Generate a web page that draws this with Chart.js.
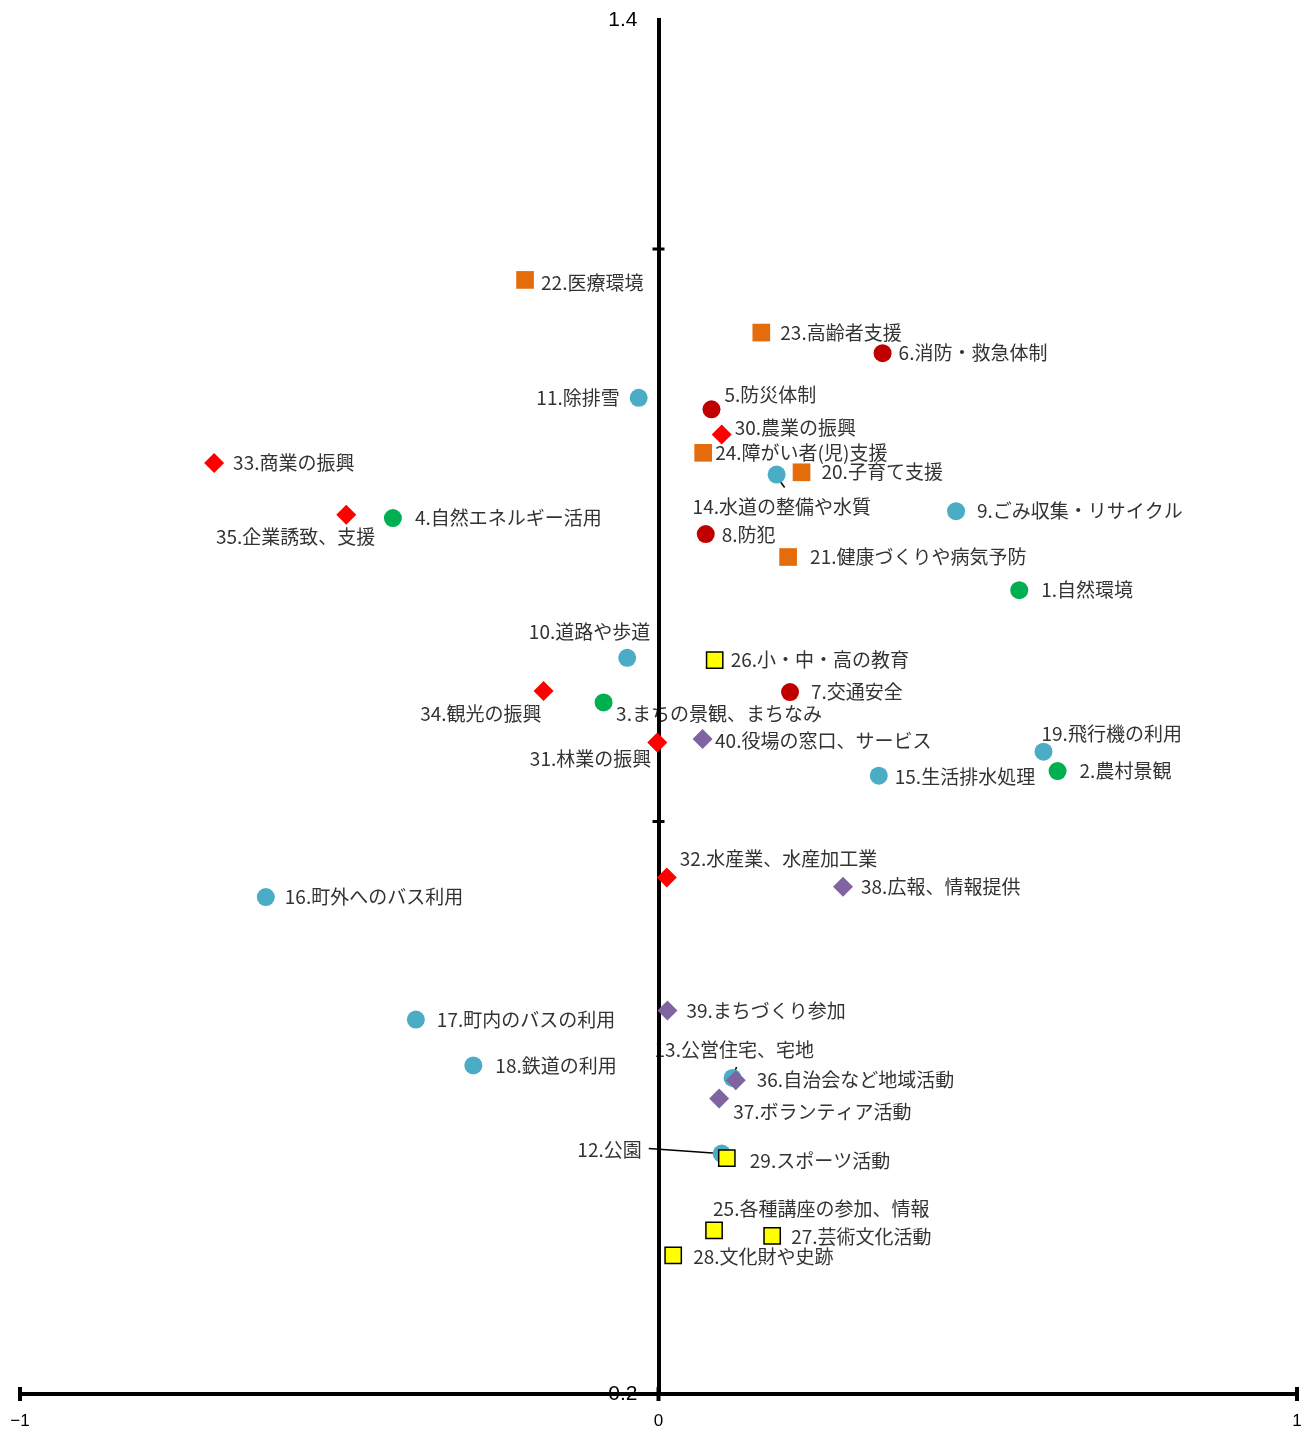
<!DOCTYPE html>
<html>
<head>
<meta charset="utf-8">
<script src="https://cdn.jsdelivr.net/npm/chart.js@4.4.1/dist/chart.umd.min.js"></script>
<style>
html,body{margin:0;padding:0;background:#fff;overflow:hidden;}
canvas{display:block;}
</style>
</head>
<body>
<canvas id="c" width="1311" height="1430"></canvas>
<script>
// ---- data ----
const natureNames = ['1.自然環境','2.農村景観','3.まちの景観、まちなみ','4.自然エネルギー活用'];
const natureX = [0.565, 0.625, -0.086, -0.416];
const natureY = [0.902, 0.744, 0.804, 0.965];

const safetyNames = ['5.防災体制','6.消防・救急体制','7.交通安全','8.防犯'];
const safetyX = [0.083, 0.351, 0.206, 0.074];
const safetyY = [1.060, 1.109, 0.813, 0.951];

const lifeNames = ['9.ごみ収集・リサイクル','10.道路や歩道','11.除排雪','12.公園','13.公営住宅、宅地','14.水道の整備や水質','15.生活排水処理','16.町外へのバス利用','17.町内のバスの利用','18.鉄道の利用','19.飛行機の利用'];
const lifeX = [0.466, -0.049, -0.031, 0.099, 0.116, 0.185, 0.345, -0.615, -0.380, -0.290, 0.603];
const lifeY = [0.971, 0.843, 1.070, 0.410, 0.476, 1.003, 0.740, 0.634, 0.527, 0.487, 0.761];

const welfareNames = ['20.子育て支援','21.健康づくりや病気予防','22.医療環境','23.高齢者支援','24.障がい者(児)支援'];
const welfareX = [0.224, 0.203, -0.209, 0.161, 0.070];
const welfareY = [1.005, 0.931, 1.173, 1.127, 1.022];

const eduNames = ['25.各種講座の参加、情報','26.小・中・高の教育','27.芸術文化活動','28.文化財や史跡','29.スポーツ活動'];
const eduX = [0.087, 0.088, 0.178, 0.023, 0.107];
const eduY = [0.343, 0.841, 0.338, 0.321, 0.406];

const industryNames = ['30.農業の振興','31.林業の振興','32.水産業、水産加工業','33.商業の振興','34.観光の振興','35.企業誘致、支援'];
const industryX = [0.099, -0.002, 0.013, -0.696, -0.180, -0.489];
const industryY = [1.038, 0.769, 0.651, 1.013, 0.814, 0.968];

const communityNames = ['36.自治会など地域活動','37.ボランティア活動','38.広報、情報提供','39.まちづくり参加','40.役場の窓口、サービス'];
const communityX = [0.121, 0.095, 0.289, 0.014, 0.069];
const communityY = [0.474, 0.458, 0.643, 0.535, 0.772];

// tick values / labels
const xTickValues = [-1, 0, 1];
const yTickValues = [0.2, 0.7, 1.2, 1.4];
const yTickLabels = ['0.2', '', '', '1.4'];

// ---- label placement (layout, offsets in px from the marker) ----
const labelLayout = {
  1:[22,0,'left'], 2:[22,0,'left'], 3:[12.5,11,'left'], 4:[22,0,'left'],
  5:[13,-15,'left'], 6:[16,0,'left'], 7:[21,0,'left'], 8:[16,1,'left'],
  9:[21,0,'left'], 10:[23,-26,'right'], 11:[-19,0,'right'], 12:[-80,-4,'right'],
  13:[-78,-28,'left'], 14:[-84,32,'left'], 15:[16,1,'left'], 16:[19,0,'left'],
  17:[21,0,'left'], 18:[22,0,'left'], 19:[-2,-18,'left'],
  20:[20,0,'left'], 21:[22,0,'left'], 22:[16,3,'left'], 23:[19,0,'left'], 24:[12,0,'left'],
  25:[-1,-21,'left'], 26:[16,0,'left'], 27:[19,1,'left'], 28:[20,1,'left'], 29:[23,3,'left'],
  30:[13,-7,'left'], 31:[-6,16,'right'], 32:[13,-19,'left'], 33:[19,0,'left'], 34:[-2,23,'right'], 35:[29,22,'right'],
  36:[21,0,'left'], 37:[14,13,'left'], 38:[18,0,'left'], 39:[19,0,'left'], 40:[12.5,2,'left']
};
const leaderLines = {
  12:[-73,-5,-2,0],
  13:[4,-11,0,-1],
  14:[0,2,8,13]
};

function pts(xs, ys){ return xs.map((x,i)=>({x:x, y:ys[i]})); }

const datasets = [
  {names:natureNames, data:pts(natureX,natureY), pointStyle:'circle', pointRadius:9, backgroundColor:'#00B050', borderColor:'#00B050', borderWidth:0, order:2},
  {names:safetyNames, data:pts(safetyX,safetyY), pointStyle:'circle', pointRadius:9, backgroundColor:'#C00000', borderColor:'#C00000', borderWidth:0, order:2},
  {names:lifeNames, data:pts(lifeX,lifeY), pointStyle:'circle', pointRadius:9, backgroundColor:'#4BACC6', borderColor:'#4BACC6', borderWidth:0, order:10},
  {names:welfareNames, data:pts(welfareX,welfareY), pointStyle:'rect', pointRadius:12.5, backgroundColor:'#E46C0A', borderColor:'#E46C0A', borderWidth:0, order:2},
  {names:eduNames, data:pts(eduX,eduY), pointStyle:'rect', pointRadius:11.5, backgroundColor:'#FFFF00', borderColor:'#000000', borderWidth:1.5, order:1},
  {names:industryNames, data:pts(industryX,industryY), pointStyle:'rectRot', pointRadius:10, backgroundColor:'#FF0000', borderColor:'#FF0000', borderWidth:0, order:2},
  {names:communityNames, data:pts(communityX,communityY), pointStyle:'rectRot', pointRadius:10, backgroundColor:'#8064A2', borderColor:'#8064A2', borderWidth:0, order:1}
];
datasets.forEach(d=>{ d.pointHoverRadius = d.pointRadius; });

const labelPlugin = {
  id:'pointLabels',
  beforeDraw(chart){
    const ctx = chart.ctx;
    ctx.save();
    ctx.font = '19px "Noto Sans CJK JP", "Noto Sans", sans-serif';
    ctx.fillStyle = '#333333';
    ctx.textBaseline = 'middle';
    chart.data.datasets.forEach((ds, di)=>{
      const meta = chart.getDatasetMeta(di);
      meta.data.forEach((el, j)=>{
        const name = ds.names[j];
        const num = parseInt(name, 10);
        const lay = labelLayout[num] || [15,0,'left'];
        ctx.textAlign = lay[2];
        ctx.fillText(name, el.x + lay[0], el.y + lay[1]);
        const ll = leaderLines[num];
        if (ll) {
          ctx.beginPath();
          ctx.strokeStyle = '#000';
          ctx.lineWidth = 1.5;
          ctx.moveTo(el.x + ll[0], el.y + ll[1]);
          ctx.lineTo(el.x + ll[2], el.y + ll[3]);
          ctx.stroke();
        }
      });
    });
    ctx.restore();
  }
};

const crossTickPlugin = {
  id:'crossTicks',
  beforeDatasetsDraw(chart){
    const ctx = chart.ctx, xs = chart.scales.x, ys = chart.scales.y;
    const x0 = xs.getPixelForValue(0), yb = ys.getPixelForValue(0.2);
    ctx.save();
    ctx.strokeStyle = '#000';
    ctx.lineWidth = 4;
    xTickValues.forEach(v=>{
      const px = xs.getPixelForValue(v);
      ctx.beginPath(); ctx.moveTo(px, yb-7); ctx.lineTo(px, yb+7); ctx.stroke();
    });
    ctx.lineWidth = 3;
    yTickValues.filter(v=>v>0.2 && v<1.4).forEach(v=>{
      const py = ys.getPixelForValue(v);
      ctx.beginPath(); ctx.moveTo(x0-6, py); ctx.lineTo(x0+6, py); ctx.stroke();
    });
    ctx.restore();
  }
};

function zeroPadding(s){ s.paddingLeft = 0; s.paddingRight = 0; s.paddingTop = 0; s.paddingBottom = 0; }

new Chart(document.getElementById('c'), {
  type:'scatter',
  data:{datasets:datasets},
  options:{
    responsive:false,
    devicePixelRatio:1,
    animation:false,
    layout:{padding:{left:20, right:14, top:20, bottom:-18.4}},
    plugins:{legend:{display:false}, tooltip:{enabled:false}},
    scales:{
      x:{
        type:'linear', min:-1, max:1, position:'bottom',
        afterBuildTicks: s => { s.ticks = xTickValues.map(v=>({value:v})); },
        afterFit: zeroPadding,
        ticks:{color:'#000', font:{family:'"Liberation Sans", Arial, sans-serif', size:17}, padding:17,
               callback: v => (v < 0 ? '\u2212' + Math.abs(v) : String(v))},
        grid:{display:true, drawOnChartArea:false, drawTicks:false},
        border:{display:true, color:'#000', width:4}
      },
      y:{
        type:'linear', min:0.2, max:1.4, position:{x:0},
        afterBuildTicks: s => { s.ticks = yTickValues.map(v=>({value:v})); },
        afterFit: zeroPadding,
        ticks:{color:'#000', font:{family:'"Liberation Sans", Arial, sans-serif', size:21},
               callback: (v) => { const i = yTickValues.indexOf(v); return i >= 0 && yTickLabels[i] ? yTickLabels[i] + '\u2002\u2002' : ''; }},
        grid:{display:true, drawOnChartArea:false, drawTicks:false},
        border:{display:true, color:'#000', width:4}
      }
    }
  },
  plugins:[labelPlugin, crossTickPlugin]
});
</script>
</body>
</html>
